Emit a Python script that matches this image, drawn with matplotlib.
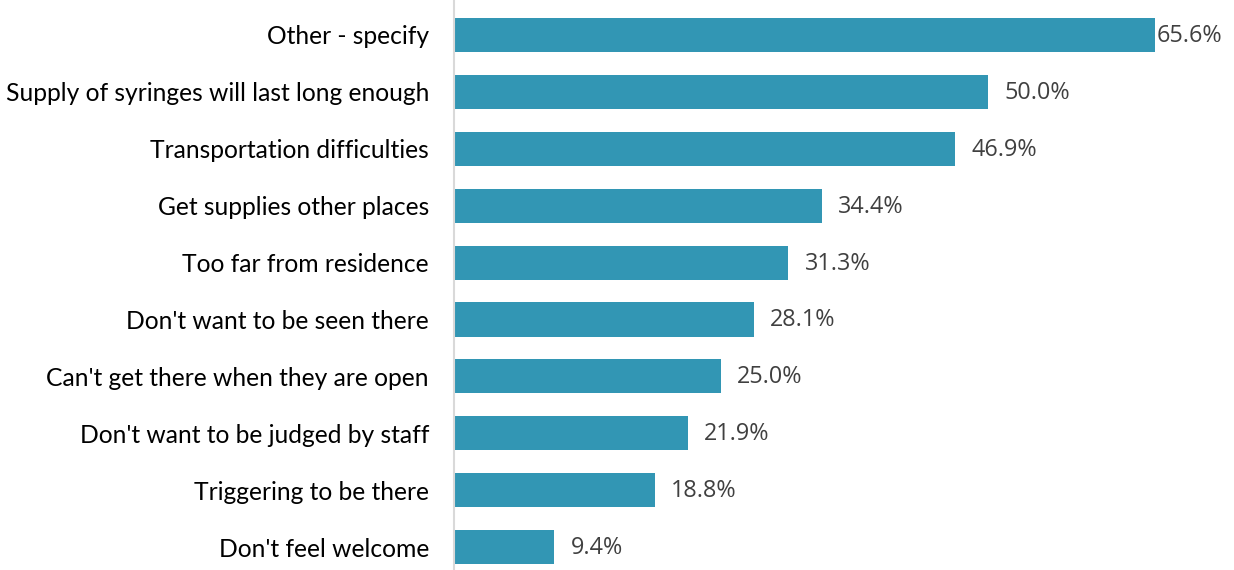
import matplotlib
matplotlib.use("Agg")
from matplotlib import pyplot as plt

categories = ["Other - specify", "Supply of syringes will last long enough",
              "Transportation difficulties", "Get supplies other places",
              "Too far from residence", "Don't want to be seen there",
              "Can't get there when they are open", "Don't want to be judged by staff",
              "Triggering to be there", "Don't feel welcome"]
values = [65.6, 50.0, 46.9, 34.4, 31.3, 28.1, 25.0, 21.9, 18.8, 9.4]

W, H = 1234, 570
fig = plt.figure(figsize=(W / 100, H / 100), dpi=100)
ax = fig.add_axes([454 / W, 0, 701 / W, 1])

pos = list(range(len(categories)))
ax.barh(pos, values, height=0.6, color="#3296b4")
ax.set_xlim(0, 65.6)
ax.set_ylim((H - 35) / 56.9, -35 / 56.9)

ax.set_yticks(pos)
ax.set_yticklabels(categories, fontsize=17.7, family="Lato", color="black")
ax.tick_params(axis="y", length=0, pad=18)
ax.set_xticks([])
for s in ["top", "right", "bottom"]:
    ax.spines[s].set_visible(False)
ax.spines["left"].set_color("#d9d9d9")
ax.spines["left"].set_linewidth(1.5)

for i, v in enumerate(values):
    off = 2 if v == max(values) else 16
    ax.annotate(f"{v:.1f}%", (v, i), xytext=(off, -1), textcoords="offset pixels",
                va="center", ha="left", fontsize=16.8, family="Open Sans",
                color="#404040", annotation_clip=False)

fig.savefig("out.png", dpi=100)
